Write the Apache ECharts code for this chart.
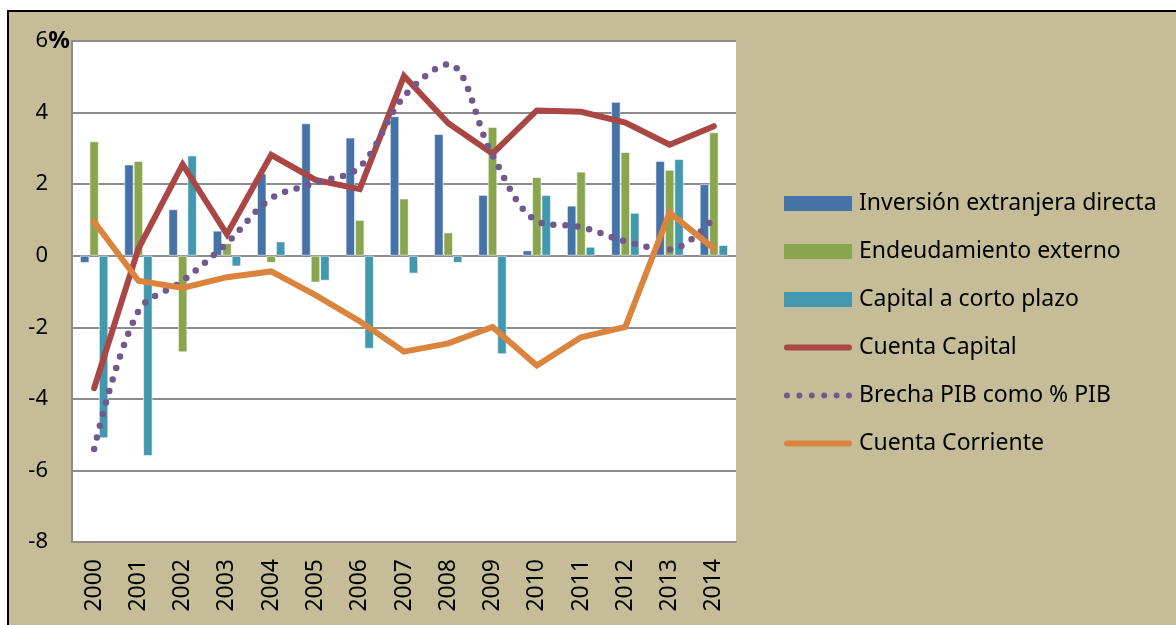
<!DOCTYPE html>
<html>
<head>
<meta charset="utf-8" />
<script src="https://cdn.jsdelivr.net/npm/echarts@6/dist/echarts.min.js" type="text/javascript" charset="utf-8"></script>
<title>Cuenta capital</title>
<style>
  html, body { margin: 0; padding: 0; background: #fff; }
</style>
</head>
<body>
<div id="main" style="width: 1176px;height:625px;"></div>
</body>
<script type="text/javascript">
// datos
var years = ['2000', '2001', '2002', '2003', '2004', '2005', '2006', '2007', '2008', '2009', '2010', '2011', '2012', '2013', '2014'];
var inversion = [-0.2, 2.55, 1.3, 0.7, 2.3, 3.7, 3.3, 3.9, 3.4, 1.7, 0.15, 1.4, 4.3, 2.65, 2.0];
var endeudamiento = [3.2, 2.65, -2.7, 0.35, -0.2, -0.75, 1.0, 1.6, 0.65, 3.6, 2.2, 2.35, 2.9, 2.4, 3.45];
var cortoPlazo = [-5.1, -5.6, 2.8, -0.3, 0.4, -0.7, -2.6, -0.5, -0.2, -2.75, 1.7, 0.25, 1.2, 2.7, 0.3];
var cuentaCapital = [-3.7, 0.2, 2.55, 0.6, 2.82, 2.12, 1.86, 5.02, 3.7, 2.85, 4.06, 4.02, 3.72, 3.1, 3.62];
var brecha = [-5.4, -1.55, -0.7, 0.35, 1.6, 2.03, 2.48, 4.45, 5.35, 2.8, 0.97, 0.8, 0.4, 0.17, 1.05];
var cuentaCorriente = [0.95, -0.7, -0.9, -0.6, -0.44, -1.1, -1.83, -2.68, -2.45, -1.99, -3.07, -2.28, -1.99, 1.2, 0.2];

var dom = document.getElementById("main");
var myChart = echarts.init(dom);

var fuente = "'Noto Sans', sans-serif";
var barBorder = 'rgba(255,255,255,0.55)';

// iconos de leyenda para las lineas
var iconoLinea = 'path://M3,0 L65,0 A3,3 0 0,1 65,6 L3,6 A3,3 0 0,1 3,0 Z';
var iconoPuntos = 'path://';
for (var k = 0; k < 6; k++) {
  var cx = 3 + k * 12.5;
  iconoPuntos += 'M' + cx + ',0 A3,3 0 1,1 ' + cx + ',6 A3,3 0 1,1 ' + cx + ',0 Z ';
}

function barra(nombre, datos, color) {
  return {
    name: nombre,
    type: 'bar',
    data: datos,
    barGap: '0%',
    barCategoryGap: '36%',
    itemStyle: { color: color, borderColor: barBorder, borderWidth: 1 }
  };
}

var option = {
  backgroundColor: '#ffffff',
  animation: false,
  textStyle: { fontFamily: fuente },
  graphic: [{
    type: 'rect',
    z: -100,
    silent: true,
    shape: { x: 8, y: 11, width: 1200, height: 700 },
    style: { fill: '#C4BD97', stroke: '#000', lineWidth: 2 }
  }],
  grid: {
    left: 72, right: 440, top: 41, bottom: 83,
    show: true, backgroundColor: '#ffffff', borderWidth: 0
  },
  legend: {
    orient: 'vertical',
    left: 779,
    top: 187,
    itemWidth: 68,
    itemHeight: 15,
    itemGap: 25,
    itemStyle: { borderWidth: 0 },
    textStyle: { fontSize: 23, color: '#000', lineHeight: 22, fontFamily: fuente, padding: [0, 0, 0, 2] },
    data: [
      { name: 'Inversión extranjera directa', icon: 'rect' },
      { name: 'Endeudamiento externo', icon: 'rect' },
      { name: 'Capital a corto plazo', icon: 'rect' },
      { name: 'Cuenta Capital', icon: iconoLinea },
      { name: 'Brecha PIB como % PIB', icon: iconoPuntos },
      { name: 'Cuenta Corriente', icon: iconoLinea }
    ]
  },
  xAxis: {
    type: 'category',
    data: years,
    axisTick: { show: false },
    axisLine: { onZero: false, lineStyle: { color: '#8c8c8c', width: 2 } },
    axisLabel: { rotate: 90, fontSize: 23, color: '#000', margin: 17 }
  },
  yAxis: {
    type: 'value',
    min: -8,
    max: 6,
    interval: 2,
    axisTick: { show: false },
    axisLine: { show: true, lineStyle: { color: '#8c8c8c', width: 2 } },
    splitLine: { lineStyle: { color: '#8c8c8c', width: 2 } },
    axisLabel: {
      fontSize: 22, color: '#000', margin: 2,
      formatter: function (v) { return v + '{p|' + (v === 6 ? '%' : '') + '}'; },
      rich: { p: { width: 22, fontSize: 24, fontWeight: 'bold', align: 'left', color: '#000' } }
    }
  },
  series: [
    barra('Inversión extranjera directa', inversion, '#4572A7'),
    barra('Endeudamiento externo', endeudamiento, '#89A54E'),
    barra('Capital a corto plazo', cortoPlazo, '#4198AF'),
    {
      name: 'Cuenta Capital', type: 'line', data: cuentaCapital,
      symbol: 'none', color: '#AA4643',
      lineStyle: { color: '#AA4643', width: 6, cap: 'round', join: 'miter' }
    },
    {
      name: 'Brecha PIB como % PIB', type: 'line', data: brecha,
      symbol: 'none', smooth: 0.35, color: '#71588F',
      lineStyle: { color: '#71588F', width: 6.5, type: [0, 12], cap: 'round' }
    },
    {
      name: 'Cuenta Corriente', type: 'line', data: cuentaCorriente,
      symbol: 'none', color: '#DB843D',
      lineStyle: { color: '#DB843D', width: 6, cap: 'round', join: 'miter' }
    }
  ]
};
myChart.setOption(option);
</script>
</html>
